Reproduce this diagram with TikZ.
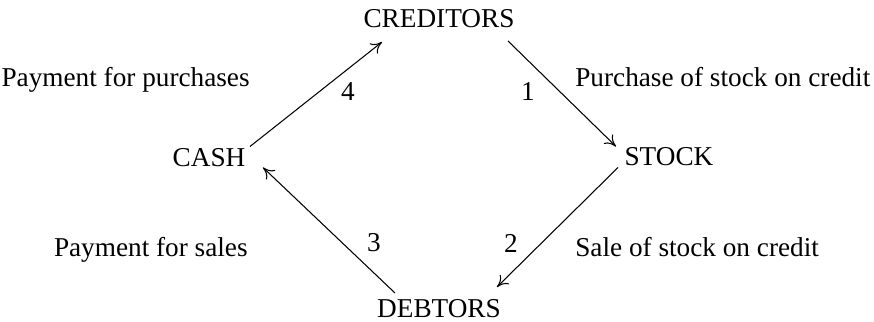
\documentclass[tikz,border=0pt]{standalone}
\usepackage{fontspec}
\setmainfont{Liberation Serif}
\usetikzlibrary{
  positioning,
  arrows.meta
}

\begin{document}
\begin{tikzpicture}[
  every node/.style={font=\fontsize{15.5}{18}\selectfont, inner sep=0pt},
  account/.style={anchor=center},
  steplabel/.style={anchor=center},
  flowlabel/.style={anchor=base west},
  flowlabelL/.style={anchor=base east},
  arrow/.style={-{To[length=2.2mm,width=2.6mm]}, line width=0.6pt, black}
]
 \useasboundingbox (0,0) rectangle (17.48,6.44);

 % Accounts (diamond layout)
 \node[account] (cred)  at (8.78,6.06) {CREDITORS};
 \node[account] (cash)  at (4.18,3.29) {CASH};
 \node[account] (stock) at (13.38,3.31) {STOCK};
 \node[account] (debt)  at (8.78,0.26) {DEBTORS};

 % Flow descriptions
 \node[flowlabelL] (lpurch) at (5.00,4.70) {Payment for purchases};
 \node[flowlabelL] (lsales) at (4.96,1.30) {Payment for sales};
 \node[flowlabel] (lcred) at (11.50,4.70) {Purchase of stock on credit};
 \node[flowlabel] (lsale) at (11.50,1.30) {Sale of stock on credit};

 % Step numbers
 \node[steplabel] (n1) at (10.56,4.60) {1};
 \node[steplabel] (n2) at (10.22,1.58) {2};
 \node[steplabel] (n3) at (7.48,1.58) {3};
 \node[steplabel] (n4) at (6.96,4.60) {4};

 % Cycle arrows
 \draw[arrow] ([shift={(1.38,-0.44)}]cred.center) -- ([shift={(-1.06,0.20)}]stock.center);
 \draw[arrow] ([shift={(-1.02,-0.22)}]stock.center) -- ([shift={(1.16,0.44)}]debt.center);
 \draw[arrow] ([shift={(-0.88,0.32)}]debt.center) -- ([shift={(1.08,-0.20)}]cash.center);
 \draw[arrow] ([shift={(0.82,0.22)}]cash.center) -- ([shift={(-1.14,-0.46)}]cred.center);
\end{tikzpicture}
\end{document}
